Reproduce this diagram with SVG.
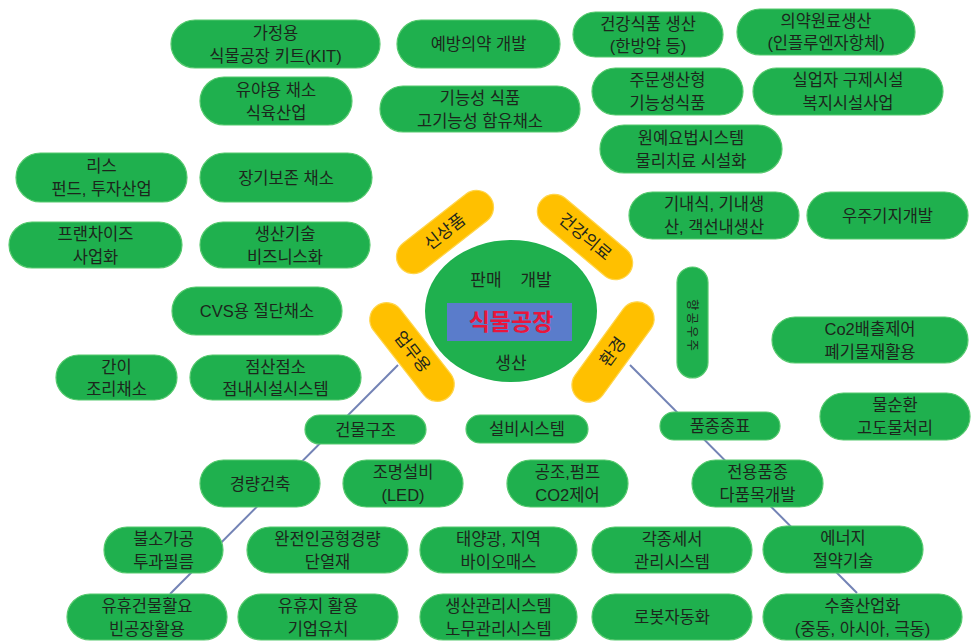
<svg xmlns="http://www.w3.org/2000/svg" width="971" height="642" viewBox="0 0 971 642">
<style>
.p{fill:#1fb04e;stroke:#56c96e;stroke-width:1.2}
.y{fill:#ffc000;stroke:#ffd54a;stroke-width:1.2}
text{font-family:"Liberation Sans","Noto Sans CJK KR",sans-serif;font-size:16.5px;fill:#1c261c;text-anchor:middle;dominant-baseline:central}
.c{fill:#1fb04e}
.t{font-size:17px}
.r{fill:#e8163c;font-weight:bold;font-size:23px}
.v{font-size:12.5px;letter-spacing:2px}
.ln{stroke:#7383b5;stroke-width:2;fill:none}
</style>
<rect width="971" height="642" fill="#ffffff"/>
<g id="connectors">
<line class="ln" x1="398" y1="365" x2="170" y2="594"/>
<line class="ln" x1="630" y1="365" x2="857" y2="593"/>
</g>
<g id="center">
<ellipse class="c" cx="511" cy="311" rx="86" ry="71"/>
<rect x="447" y="303" width="125" height="38" fill="#5a7ccb"/>
<text x="511" y="322" class="r">식물공장</text>
<text x="511" y="280" class="t" xml:space="preserve">판매    개발</text>
<text x="511" y="363" class="t">생산</text>
</g>
<g id="cat-sinsangpum" transform="translate(445,232) rotate(-38)">
<rect class="y" x="-57" y="-17" width="114" height="34" rx="17"/>
<text x="0" y="0" class="t">신상품</text>
</g>
<g id="cat-geongang" transform="translate(585,237) rotate(40)">
<rect class="y" x="-57" y="-17" width="114" height="34" rx="17"/>
<text x="0" y="0" class="t">건강의료</text>
</g>
<g id="cat-eopmu" transform="translate(412,352) rotate(52)">
<rect class="y" x="-58" y="-17" width="116" height="34" rx="17"/>
<text x="0" y="0" class="t">업무용</text>
</g>
<g id="cat-hwangyeong" transform="translate(613,352) rotate(-54)">
<rect class="y" x="-58" y="-17" width="116" height="34" rx="17"/>
<text x="0" y="0" class="t">환경</text>
</g>
<g id="cat-hanggong">
<rect class="p" x="677" y="267" width="31" height="111" rx="15.5"/>
<text x="692" y="326" class="v" transform="rotate(90 692 326)">항공우주</text>
</g>
<g id="n1"><rect class="p" x="171" y="20" width="209" height="48" rx="24"/><text x="275.5" y="33">가정용</text><text x="275.5" y="56">식물공장 키트(KIT)</text></g>
<g id="n2"><rect class="p" x="397" y="20" width="163" height="48" rx="24"/><text x="478.5" y="44">예방의약 개발</text></g>
<g id="n3"><rect class="p" x="200" y="77" width="152" height="48" rx="24"/><text x="276" y="90">유야용 채소</text><text x="276" y="113">식육산업</text></g>
<g id="n4"><rect class="p" x="380" y="86" width="200" height="46" rx="23"/><text x="480" y="98">기능성 식품</text><text x="480" y="121">고기능성 함유채소</text></g>
<g id="n5"><rect class="p" x="573" y="12" width="150" height="45" rx="22.5"/><text x="648" y="24">건강식품 생산</text><text x="648" y="46">(한방약 등)</text></g>
<g id="n6"><rect class="p" x="737" y="9" width="178" height="46" rx="23"/><text x="826" y="21">의약원료생산</text><text x="826" y="43">(인플루엔자항체)</text></g>
<g id="n7"><rect class="p" x="592" y="68" width="151" height="47" rx="23.5"/><text x="667.5" y="80">주문생산형</text><text x="667.5" y="103">기능성식품</text></g>
<g id="n8"><rect class="p" x="753" y="68" width="190" height="47" rx="23.5"/><text x="848" y="80">실업자 구제시설</text><text x="848" y="103">복지시설사업</text></g>
<g id="n9"><rect class="p" x="600" y="125" width="182" height="48" rx="24"/><text x="691" y="138">원예요법시스템</text><text x="691" y="161">물리치료 시설화</text></g>
<g id="n10"><rect class="p" x="16" y="153" width="171" height="49" rx="24.5"/><text x="101.5" y="166">리스</text><text x="101.5" y="189">펀드, 투자산업</text></g>
<g id="n11"><rect class="p" x="200" y="153" width="172" height="49" rx="24.5"/><text x="286" y="178">장기보존 채소</text></g>
<g id="n12"><rect class="p" x="9" y="222" width="173" height="46" rx="23"/><text x="95.5" y="234">프랜차이즈</text><text x="95.5" y="257">사업화</text></g>
<g id="n13"><rect class="p" x="200" y="222" width="170" height="46" rx="23"/><text x="285" y="234">생산기술</text><text x="285" y="257">비즈니스화</text></g>
<g id="n14"><rect class="p" x="629" y="192" width="170" height="47" rx="23.5"/><text x="714" y="204">기내식, 기내생</text><text x="714" y="227">산, 객선내생산</text></g>
<g id="n15"><rect class="p" x="807" y="192" width="161" height="47" rx="23.5"/><text x="887.5" y="216">우주기지개발</text></g>
<g id="n16"><rect class="p" x="172" y="287" width="170" height="48" rx="24"/><text x="257" y="311">CVS용 절단채소</text></g>
<g id="n17"><rect class="p" x="56" y="355" width="121" height="45" rx="22.5"/><text x="116.5" y="367">간이</text><text x="116.5" y="389">조리채소</text></g>
<g id="n18"><rect class="p" x="190" y="355" width="171" height="45" rx="22.5"/><text x="275.5" y="367">점산점소</text><text x="275.5" y="389">점내시설시스템</text></g>
<g id="n19"><rect class="p" x="772" y="317" width="196" height="46" rx="23"/><text x="870" y="329">Co2배출제어</text><text x="870" y="352">폐기물재활용</text></g>
<g id="n20"><rect class="p" x="820" y="393" width="150" height="47" rx="23.5"/><text x="895" y="405">물순환</text><text x="895" y="428">고도물처리</text></g>
<g id="n21"><rect class="p" x="305" y="415" width="121" height="29" rx="14.5"/><text x="365.5" y="429.5">건물구조</text></g>
<g id="n22"><rect class="p" x="466" y="415" width="122" height="28" rx="14"/><text x="527" y="429">설비시스템</text></g>
<g id="n23"><rect class="p" x="660" y="412" width="120" height="28" rx="14"/><text x="720" y="426">품종종표</text></g>
<g id="n24"><rect class="p" x="200" y="460" width="120" height="47" rx="23.5"/><text x="260" y="483.5">경량건축</text></g>
<g id="n25"><rect class="p" x="343" y="460" width="120" height="47" rx="23.5"/><text x="403" y="472">조명설비</text><text x="403" y="495">(LED)</text></g>
<g id="n26"><rect class="p" x="507" y="460" width="121" height="47" rx="23.5"/><text x="567.5" y="472">공조,펌프</text><text x="567.5" y="495">CO2제어</text></g>
<g id="n27"><rect class="p" x="692" y="460" width="131" height="47" rx="23.5"/><text x="757.5" y="472">전용품종</text><text x="757.5" y="495">다품목개발</text></g>
<g id="n28"><rect class="p" x="104" y="527" width="119" height="46" rx="23"/><text x="163.5" y="539">불소가공</text><text x="163.5" y="562">투과필름</text></g>
<g id="n29"><rect class="p" x="247" y="527" width="161" height="46" rx="23"/><text x="327.5" y="539">완전인공형경량</text><text x="327.5" y="562">단열재</text></g>
<g id="n30"><rect class="p" x="420" y="527" width="157" height="46" rx="23"/><text x="498.5" y="539">태양광, 지역</text><text x="498.5" y="562">바이오매스</text></g>
<g id="n31"><rect class="p" x="592" y="527" width="160" height="46" rx="23"/><text x="672" y="539">각종세서</text><text x="672" y="562">관리시스템</text></g>
<g id="n32"><rect class="p" x="763" y="526" width="160" height="47" rx="23.5"/><text x="843" y="538">에너지</text><text x="843" y="561">절약기술</text></g>
<g id="n33"><rect class="p" x="67" y="594" width="160" height="46" rx="23"/><text x="147" y="606">유휴건물활요</text><text x="147" y="629">빈공장활용</text></g>
<g id="n34"><rect class="p" x="238" y="594" width="160" height="46" rx="23"/><text x="318" y="606">유휴지 활용</text><text x="318" y="629">기업유치</text></g>
<g id="n35"><rect class="p" x="420" y="594" width="157" height="46" rx="23"/><text x="498.5" y="606">생산관리시스템</text><text x="498.5" y="629">노무관리시스템</text></g>
<g id="n36"><rect class="p" x="592" y="594" width="160" height="46" rx="23"/><text x="672" y="617">로봇자동화</text></g>
<g id="n37"><rect class="p" x="763" y="594" width="199" height="46" rx="23"/><text x="862.5" y="606">수출산업화</text><text x="862.5" y="629">(중동, 아시아, 극동)</text></g>
</svg>
